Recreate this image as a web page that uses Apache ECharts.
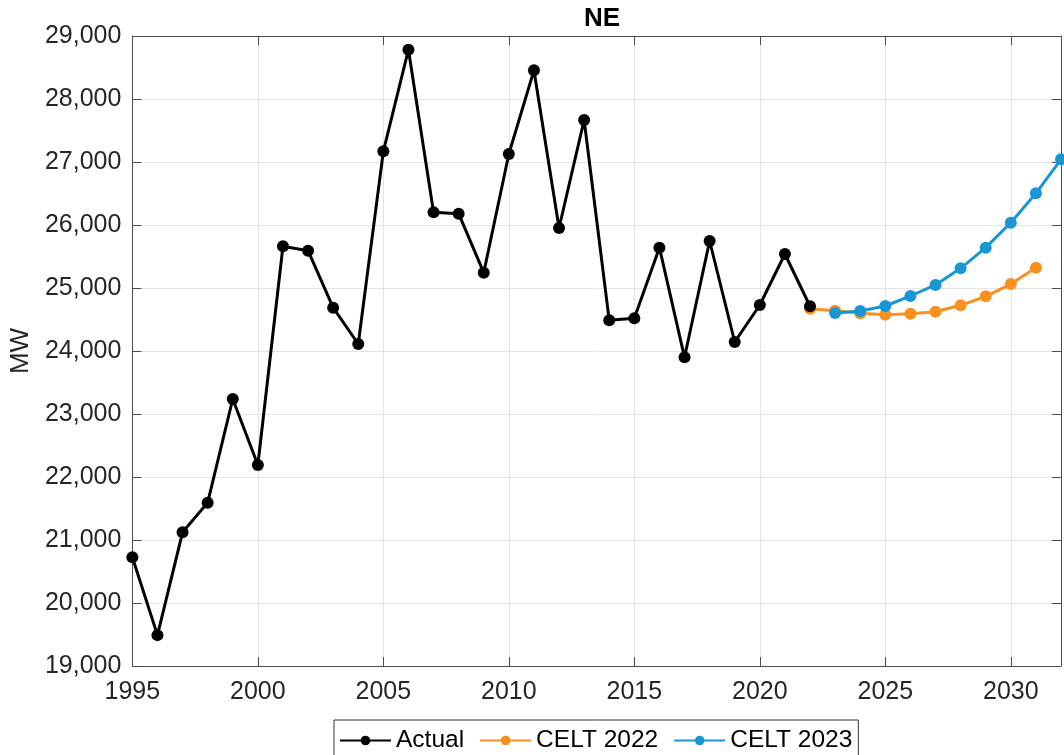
<!DOCTYPE html>
<html>
<head>
<meta charset="utf-8">
<script src="https://cdn.jsdelivr.net/npm/echarts@6/dist/echarts.min.js"></script>
<style>
html,body{margin:0;padding:0;background:#fff;}
#chart{width:1064px;height:755px;}
</style>
</head>
<body>
<div id="chart"></div>
<script>
const title = 'NE';
const yAxisName = 'MW';
const actualYears = [1995,1996,1997,1998,1999,2000,2001,2002,2003,2004,2005,2006,2007,2008,2009,2010,2011,2012,2013,2014,2015,2016,2017,2018,2019,2020,2021,2022];
const actualValues = [20725,19490,21122,21593,23238,22190,25662,25592,24688,24111,27169,28783,26201,26180,25243,27127,28455,25952,27667,24487,24519,25640,23900,25746,24143,24730,25540,24710];
const celt2022Years = [2022,2023,2024,2025,2026,2027,2028,2029,2030,2031];
const celt2022Values = [24672,24640,24598,24577,24593,24624,24725,24868,25063,25322];
const celt2023Years = [2023,2024,2025,2026,2027,2028,2029,2030,2031,2032];
const celt2023Values = [24603,24635,24714,24873,25048,25312,25640,26037,26503,27043];
const seriesNames = ['Actual','CELT 2022','CELT 2023'];
const colors = ['#000000','#F7901E','#1A96D4'];

const font = '"Liberation Sans", Arial, Helvetica, sans-serif';
const zip = (xs, ys) => xs.map((x, i) => [x, ys[i]]);

const chart = echarts.init(document.getElementById('chart'), null, {renderer: 'canvas'});
const mkSeries = (name, data, color, z) => ({
  name, type: 'line', data, xAxisIndex: 0, yAxisIndex: 0,
  symbol: 'circle', symbolSize: 12, z,
  lineStyle: {color, width: 3},
  itemStyle: {color},
  emphasis: {disabled: true},
  animation: false
});

chart.setOption({
  animation: false,
  backgroundColor: '#fff',
  title: {
    text: title, left: 597, top: 1, textAlign: 'center',
    textStyle: {fontFamily: font, fontSize: 26, fontWeight: 'bold', color: '#000'}
  },
  grid: {left: 131.5, top: 36, right: 1.5, bottom: 89, containLabel: false},
  legend: {
    left: 334, top: 720,
    data: seriesNames,
    itemWidth: 51, itemHeight: 12, itemGap: 15,
    padding: [8, 6, 5, 5],
    borderColor: '#333', borderWidth: 1,
    textStyle: {fontFamily: font, fontSize: 24.5, color: '#000'}
  },
  xAxis: [{
    type: 'value', min: 1995, max: 2032, interval: 5,
    axisLine: {show: true, onZero: false, lineStyle: {color: '#4d4d4d', width: 1}},
    axisTick: {show: true, inside: true, length: 9, lineStyle: {color: '#4d4d4d'}},
    axisLabel: {
      fontFamily: font, fontSize: 25, color: '#262626', margin: 14,
      formatter: v => (v % 5 === 0 ? String(v) : '')
    },
    splitLine: {show: true, lineStyle: {color: '#e3e3e3', width: 1}}
  }, {
    type: 'value', min: 1995, max: 2032, interval: 5, position: 'top',
    axisLine: {show: true, onZero: false, lineStyle: {color: '#4d4d4d', width: 1}},
    axisTick: {show: true, inside: true, length: 9, lineStyle: {color: '#4d4d4d'}},
    axisLabel: {show: false}, splitLine: {show: false}
  }],
  yAxis: [{
    type: 'value', min: 19000, max: 29000, interval: 1000,
    name: yAxisName, nameLocation: 'middle', nameGap: 97, nameRotate: 90,
    nameTextStyle: {fontFamily: font, fontSize: 26, color: '#262626'},
    axisLine: {show: true, onZero: false, lineStyle: {color: '#4d4d4d', width: 1}},
    axisTick: {show: true, inside: true, length: 9, lineStyle: {color: '#4d4d4d'}},
    axisLabel: {
      fontFamily: font, fontSize: 25, color: '#262626', margin: 11,
      formatter: v => v.toLocaleString('en-US')
    },
    splitLine: {show: true, lineStyle: {color: '#e3e3e3', width: 1}}
  }, {
    type: 'value', min: 19000, max: 29000, interval: 1000, position: 'right',
    axisLine: {show: true, onZero: false, lineStyle: {color: '#4d4d4d', width: 1}},
    axisTick: {show: true, inside: true, length: 9, lineStyle: {color: '#4d4d4d'}},
    axisLabel: {show: false}, splitLine: {show: false}
  }],
  series: [
    mkSeries(seriesNames[1], zip(celt2022Years, celt2022Values), colors[1], 2),
    mkSeries(seriesNames[2], zip(celt2023Years, celt2023Values), colors[2], 3),
    mkSeries(seriesNames[0], zip(actualYears, actualValues), colors[0], 4)
  ]
});
</script>
</body>
</html>
